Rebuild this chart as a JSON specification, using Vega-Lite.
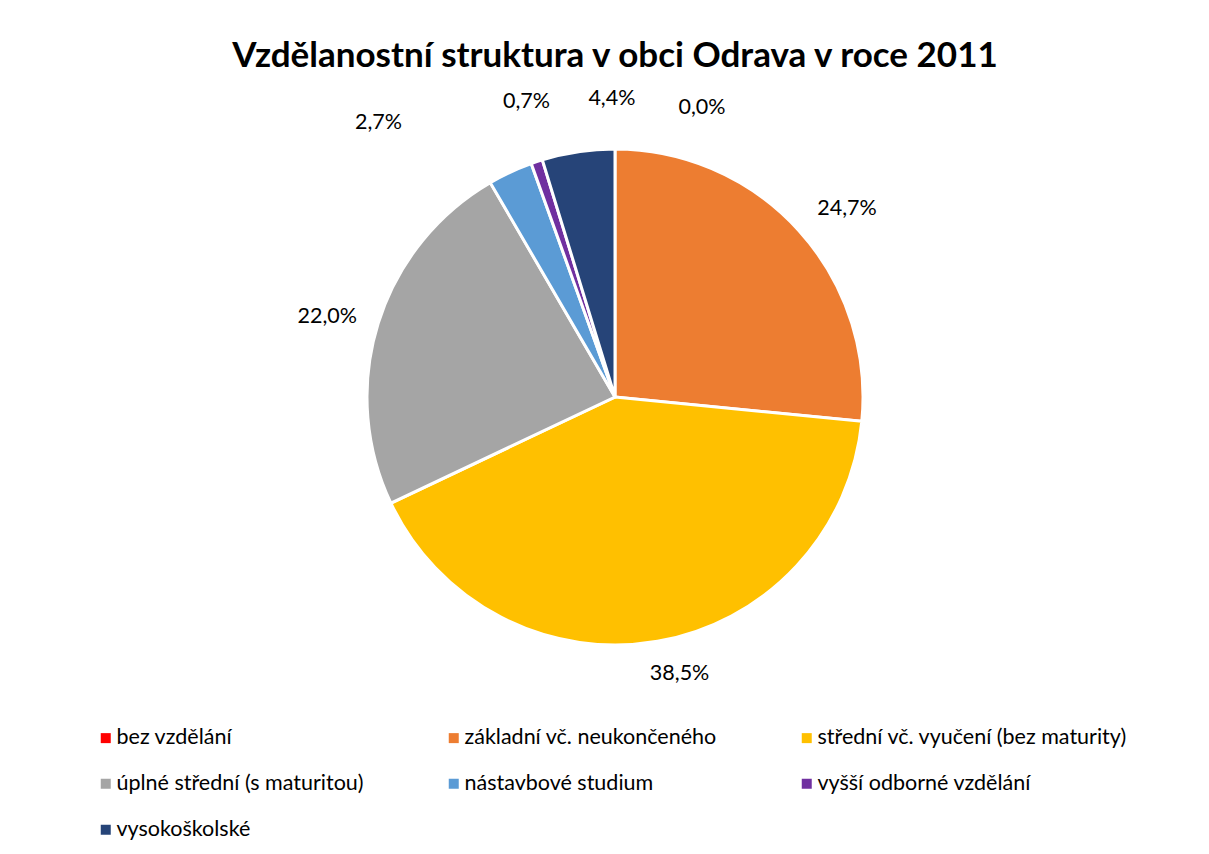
{
  "$schema": "https://vega.github.io/schema/vega-lite/v6.json",
  "width": 1188,
  "height": 614,
  "autosize": {"type": "none"},
  "padding": {"left": 21, "top": 90, "right": 0, "bottom": 150},
  "background": "white",
  "config": {
    "view": {"stroke": null},
    "locale": {"number": {"decimal": ",", "thousands": " ", "grouping": [3], "currency": ["", " Kč"]}}
  },
  "title": {
    "text": "Vzdělanostní struktura v obci Odrava v roce 2011",
    "font": "Lato",
    "fontSize": 35,
    "fontWeight": "bold",
    "color": "#000000",
    "anchor": "middle",
    "frame": "group",
    "baseline": "alphabetic",
    "offset": -26
  },
  "data": {
    "values": [
      {"kategorie": "bez vzdělání", "podil": 0.0, "poradi": 1},
      {"kategorie": "základní vč. neukončeného", "podil": 0.247, "poradi": 2},
      {"kategorie": "střední vč. vyučení (bez maturity)", "podil": 0.385, "poradi": 3},
      {"kategorie": "úplné střední (s maturitou)", "podil": 0.22, "poradi": 4},
      {"kategorie": "nástavbové studium", "podil": 0.027, "poradi": 5},
      {"kategorie": "vyšší odborné vzdělání", "podil": 0.007, "poradi": 6},
      {"kategorie": "vysokoškolské", "podil": 0.044, "poradi": 7}
    ]
  },
  "encoding": {
    "theta": {"field": "podil", "type": "quantitative", "stack": true},
    "order": {"field": "poradi", "type": "quantitative", "sort": "ascending"}
  },
  "layer": [
    {
      "mark": {"type": "arc", "outerRadius": 248, "stroke": "white", "strokeWidth": 3},
      "encoding": {
        "color": {
          "field": "kategorie",
          "type": "nominal",
          "scale": {
            "domain": ["bez vzdělání", "základní vč. neukončeného", "střední vč. vyučení (bez maturity)", "úplné střední (s maturitou)", "nástavbové studium", "vyšší odborné vzdělání", "vysokoškolské"],
            "range": ["#FF0000", "#ED7D31", "#FFC000", "#A5A5A5", "#5B9BD5", "#7030A0", "#264478"]
          },
          "legend": {
            "orient": "none",
            "legendX": 74,
            "legendY": 637,
            "direction": "horizontal",
            "columns": 3,
            "title": null,
            "symbolType": "square",
            "symbolSize": 100,
            "symbolStrokeWidth": 0,
            "symbolOpacity": 1,
            "labelFont": "Lato",
            "labelFontSize": 21.5,
            "labelColor": "#000000",
            "labelOffset": 0,
            "labelLimit": 600,
            "columnPadding": 79,
            "rowPadding": 23,
            "gridAlign": "each",
            "padding": 0
          }
        }
      }
    },
    {
      "mark": {"type": "text", "radius": 295, "font": "Lato", "fontSize": 21.5, "color": "#000000", "align": "center", "baseline": "middle", "dx": 87, "dy": 5.5},
      "encoding": {
        "text": {"field": "podil", "type": "quantitative", "format": ".1%"},
        "opacity": {"condition": {"test": "datum.kategorie === 'bez vzdělání'", "value": 1}, "value": 0}
      }
    },
    {
      "mark": {"type": "text", "radius": 295, "font": "Lato", "fontSize": 21.5, "color": "#000000", "align": "center", "baseline": "middle", "dx": 13.5, "dy": 10},
      "encoding": {
        "text": {"field": "podil", "type": "quantitative", "format": ".1%"},
        "opacity": {"condition": {"test": "datum.kategorie === 'základní vč. neukončeného'", "value": 1}, "value": 0}
      }
    },
    {
      "mark": {"type": "text", "radius": 295, "font": "Lato", "fontSize": 21.5, "color": "#000000", "align": "center", "baseline": "middle", "dx": 14, "dy": -14},
      "encoding": {
        "text": {"field": "podil", "type": "quantitative", "format": ".1%"},
        "opacity": {"condition": {"test": "datum.kategorie === 'střední vč. vyučení (bez maturity)'", "value": 1}, "value": 0}
      }
    },
    {
      "mark": {"type": "text", "radius": 295, "font": "Lato", "fontSize": 21.5, "color": "#000000", "align": "center", "baseline": "middle", "dx": -6, "dy": 7},
      "encoding": {
        "text": {"field": "podil", "type": "quantitative", "format": ".1%"},
        "opacity": {"condition": {"test": "datum.kategorie === 'úplné střední (s maturitou)'", "value": 1}, "value": 0}
      }
    },
    {
      "mark": {"type": "text", "radius": 295, "font": "Lato", "fontSize": 21.5, "color": "#000000", "align": "center", "baseline": "middle", "dx": -112, "dy": -7},
      "encoding": {
        "text": {"field": "podil", "type": "quantitative", "format": ".1%"},
        "opacity": {"condition": {"test": "datum.kategorie === 'nástavbové studium'", "value": 1}, "value": 0}
      }
    },
    {
      "mark": {"type": "text", "radius": 295, "font": "Lato", "fontSize": 21.5, "color": "#000000", "align": "center", "baseline": "middle", "dx": 4.6, "dy": -14.6},
      "encoding": {
        "text": {"field": "podil", "type": "quantitative", "format": ".1%"},
        "opacity": {"condition": {"test": "datum.kategorie === 'vyšší odborné vzdělání'", "value": 1}, "value": 0}
      }
    },
    {
      "mark": {"type": "text", "radius": 295, "font": "Lato", "fontSize": 21.5, "color": "#000000", "align": "center", "baseline": "middle", "dx": 40.6, "dy": -6.7},
      "encoding": {
        "text": {"field": "podil", "type": "quantitative", "format": ".1%"},
        "opacity": {"condition": {"test": "datum.kategorie === 'vysokoškolské'", "value": 1}, "value": 0}
      }
    }
  ]
}
